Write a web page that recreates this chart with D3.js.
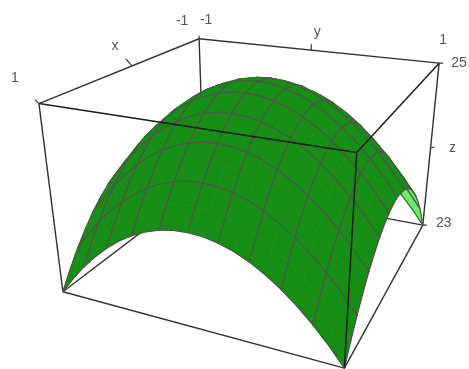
<!DOCTYPE html>
<html>
<head>
<meta charset="utf-8">
<script src="https://cdn.jsdelivr.net/npm/d3@7"></script>
<style>
  body { margin: 0; background: #fff; }
  text { font-family: "Liberation Sans", Arial, sans-serif; font-size: 14px; fill: #555; }
</style>
</head>
<body>
<div id="chart"></div>
<script>
const xValues = [-1, -0.9, -0.8, -0.7, -0.6, -0.5, -0.4, -0.3, -0.2, -0.1, 0, 0.1, 0.2, 0.3, 0.4, 0.5, 0.6, 0.7, 0.8, 0.9, 1];
const yValues = [-1, -0.9, -0.8, -0.7, -0.6, -0.5, -0.4, -0.3, -0.2, -0.1, 0, 0.1, 0.2, 0.3, 0.4, 0.5, 0.6, 0.7, 0.8, 0.9, 1];

// z, one row per x value
const zValues = [
  [23, 23.19, 23.36, 23.51, 23.64, 23.75, 23.84, 23.91, 23.96, 23.99, 24, 23.99, 23.96, 23.91, 23.84, 23.75, 23.64, 23.51, 23.36, 23.19, 23],
  [23.19, 23.38, 23.55, 23.7, 23.83, 23.94, 24.03, 24.1, 24.15, 24.18, 24.19, 24.18, 24.15, 24.1, 24.03, 23.94, 23.83, 23.7, 23.55, 23.38, 23.19],
  [23.36, 23.55, 23.72, 23.87, 24, 24.11, 24.2, 24.27, 24.32, 24.35, 24.36, 24.35, 24.32, 24.27, 24.2, 24.11, 24, 23.87, 23.72, 23.55, 23.36],
  [23.51, 23.7, 23.87, 24.02, 24.15, 24.26, 24.35, 24.42, 24.47, 24.5, 24.51, 24.5, 24.47, 24.42, 24.35, 24.26, 24.15, 24.02, 23.87, 23.7, 23.51],
  [23.64, 23.83, 24, 24.15, 24.28, 24.39, 24.48, 24.55, 24.6, 24.63, 24.64, 24.63, 24.6, 24.55, 24.48, 24.39, 24.28, 24.15, 24, 23.83, 23.64],
  [23.75, 23.94, 24.11, 24.26, 24.39, 24.5, 24.59, 24.66, 24.71, 24.74, 24.75, 24.74, 24.71, 24.66, 24.59, 24.5, 24.39, 24.26, 24.11, 23.94, 23.75],
  [23.84, 24.03, 24.2, 24.35, 24.48, 24.59, 24.68, 24.75, 24.8, 24.83, 24.84, 24.83, 24.8, 24.75, 24.68, 24.59, 24.48, 24.35, 24.2, 24.03, 23.84],
  [23.91, 24.1, 24.27, 24.42, 24.55, 24.66, 24.75, 24.82, 24.87, 24.9, 24.91, 24.9, 24.87, 24.82, 24.75, 24.66, 24.55, 24.42, 24.27, 24.1, 23.91],
  [23.96, 24.15, 24.32, 24.47, 24.6, 24.71, 24.8, 24.87, 24.92, 24.95, 24.96, 24.95, 24.92, 24.87, 24.8, 24.71, 24.6, 24.47, 24.32, 24.15, 23.96],
  [23.99, 24.18, 24.35, 24.5, 24.63, 24.74, 24.83, 24.9, 24.95, 24.98, 24.99, 24.98, 24.95, 24.9, 24.83, 24.74, 24.63, 24.5, 24.35, 24.18, 23.99],
  [24, 24.19, 24.36, 24.51, 24.64, 24.75, 24.84, 24.91, 24.96, 24.99, 25, 24.99, 24.96, 24.91, 24.84, 24.75, 24.64, 24.51, 24.36, 24.19, 24],
  [23.99, 24.18, 24.35, 24.5, 24.63, 24.74, 24.83, 24.9, 24.95, 24.98, 24.99, 24.98, 24.95, 24.9, 24.83, 24.74, 24.63, 24.5, 24.35, 24.18, 23.99],
  [23.96, 24.15, 24.32, 24.47, 24.6, 24.71, 24.8, 24.87, 24.92, 24.95, 24.96, 24.95, 24.92, 24.87, 24.8, 24.71, 24.6, 24.47, 24.32, 24.15, 23.96],
  [23.91, 24.1, 24.27, 24.42, 24.55, 24.66, 24.75, 24.82, 24.87, 24.9, 24.91, 24.9, 24.87, 24.82, 24.75, 24.66, 24.55, 24.42, 24.27, 24.1, 23.91],
  [23.84, 24.03, 24.2, 24.35, 24.48, 24.59, 24.68, 24.75, 24.8, 24.83, 24.84, 24.83, 24.8, 24.75, 24.68, 24.59, 24.48, 24.35, 24.2, 24.03, 23.84],
  [23.75, 23.94, 24.11, 24.26, 24.39, 24.5, 24.59, 24.66, 24.71, 24.74, 24.75, 24.74, 24.71, 24.66, 24.59, 24.5, 24.39, 24.26, 24.11, 23.94, 23.75],
  [23.64, 23.83, 24, 24.15, 24.28, 24.39, 24.48, 24.55, 24.6, 24.63, 24.64, 24.63, 24.6, 24.55, 24.48, 24.39, 24.28, 24.15, 24, 23.83, 23.64],
  [23.51, 23.7, 23.87, 24.02, 24.15, 24.26, 24.35, 24.42, 24.47, 24.5, 24.51, 24.5, 24.47, 24.42, 24.35, 24.26, 24.15, 24.02, 23.87, 23.7, 23.51],
  [23.36, 23.55, 23.72, 23.87, 24, 24.11, 24.2, 24.27, 24.32, 24.35, 24.36, 24.35, 24.32, 24.27, 24.2, 24.11, 24, 23.87, 23.72, 23.55, 23.36],
  [23.19, 23.38, 23.55, 23.7, 23.83, 23.94, 24.03, 24.1, 24.15, 24.18, 24.19, 24.18, 24.15, 24.1, 24.03, 23.94, 23.83, 23.7, 23.55, 23.38, 23.19],
  [23, 23.19, 23.36, 23.51, 23.64, 23.75, 23.84, 23.91, 23.96, 23.99, 24, 23.99, 23.96, 23.91, 23.84, 23.75, 23.64, 23.51, 23.36, 23.19, 23]
];

const xTicks = [-1, 1];
const yTicks = [-1, 1];
const zTicks = [23, 25];

const width = 469;
const height = 369;
const gridEvery = 2; // mesh lines on every second row of the table

const x = d3.scaleLinear().domain(xTicks).range([-1, 1]);
const y = d3.scaleLinear().domain(yTicks).range([-1, 1]);
const z = d3.scaleLinear().domain(zTicks).range([-1, 1]);

// Projection matrix of the view, cube coordinates to screen
const camera = [
  [-101.24683, 110.16939, -13.55525, 258.33657],
  [21.41281, 9.85380, -95.85169, 173.03115],
  [-0.16387, -0.07284, -0.05211, 1]
];

function depth(a, b, c) {
  const m = camera[2];
  return m[0] * x(a) + m[1] * y(b) + m[2] * z(c) + m[3];
}

function project(a, b, c) {
  const w = depth(a, b, c);
  return camera.slice(0, 2).map(m => (m[0] * x(a) + m[1] * y(b) + m[2] * z(c) + m[3]) / w);
}

const svg = d3.select("#chart")
  .append("svg")
  .attr("width", width)
  .attr("height", height)
  .style("display", "block");

// The reference is slightly soft
svg.append("defs").append("filter")
  .attr("id", "soft")
  .append("feGaussianBlur")
  .attr("stdDeviation", 0.5);

const root = svg.append("g").attr("filter", "url(#soft)");

const line = d3.line();
const [x0, x1] = xTicks;
const [y0, y1] = yTicks;
const [z0, z1] = zTicks;

function drawEdges(edges, w, color) {
  root.append("g")
    .selectAll("path")
    .data(edges)
    .join("path")
    .attr("d", d => line(d.map(p => project(...p))))
    .attr("fill", "none")
    .attr("stroke", color)
    .attr("stroke-width", w);
}

// Box edges behind the surface
drawEdges([
  [[x1, y0, z0], [x0, y0, z0]],
  [[x0, y1, z0], [x0, y0, z0]],
  [[x0, y0, z0], [x0, y0, z1]],
  [[x0, y1, z0], [x0, y1, z1]],
  [[x0, y0, z1], [x0, y1, z1]],
  [[x0, y0, z1], [x1, y0, z1]],
  [[x1, y0, z0], [x1, y1, z0]],
  [[x1, y1, z0], [x0, y1, z0]],
  [[x1, y0, z0], [x1, y0, z1]]
], 1.4, "#333");

// Surface cells, far ones first
const cells = [];
d3.range(xValues.length - 1).forEach(i => {
  d3.range(yValues.length - 1).forEach(j => {
    const corners = [[i, j], [i + 1, j], [i + 1, j + 1], [i, j + 1]]
      .map(([a, b]) => [xValues[a], yValues[b], zValues[a][b]]);
    const points = corners.map(p => project(...p));
    // mesh lines that run along this cell's sides
    const mesh = [];
    if (i % gridEvery === 0) mesh.push([points[0], points[3]]);
    if ((i + 1) % gridEvery === 0) mesh.push([points[1], points[2]]);
    if (j % gridEvery === 0) mesh.push([points[0], points[1]]);
    if ((j + 1) % gridEvery === 0) mesh.push([points[3], points[2]]);
    cells.push({ points, mesh, depth: d3.mean(corners, p => depth(...p)) });
  });
});
cells.sort((a, b) => b.depth - a.depth);

const cell = root.append("g")
  .selectAll("g")
  .data(cells)
  .join("g");

cell.append("path")
  .attr("d", d => line(d.points) + "Z")
  .attr("fill", d => d3.polygonArea(d.points) > 0 ? "#128e12" : "#66ee66")
  .attr("stroke", d => d3.polygonArea(d.points) > 0 ? "#128e12" : "#66ee66")
  .attr("stroke-width", 0.6)
  .attr("stroke-linejoin", "round");

cell.selectAll("line")
  .data(d => d.mesh)
  .join("line")
  .attr("x1", d => d[0][0])
  .attr("y1", d => d[0][1])
  .attr("x2", d => d[1][0])
  .attr("y2", d => d[1][1])
  .attr("stroke", "#4f564b")
  .attr("stroke-width", 1.2)
  .attr("stroke-linecap", "round");

// Box edges in front of the surface
drawEdges([
  [[x1, y0, z1], [x1, y1, z1]],
  [[x1, y1, z1], [x1, y1, z0]],
  [[x1, y1, z1], [x0, y1, z1]]
], 1.5, "#1c1c1c");

// Small tick marks along the axes, offsets in pixels
const ticks = [
  { at: [0, y0, z1], dx: -6, dy: -7 },
  { at: [x0, 0, z1], dx: 0, dy: -6 },
  { at: [x0, y1, 24], dx: 4, dy: -1 },
  { at: [x1, y0, z1], dx: -4, dy: -4 },
  { at: [x0, y0, z1], dx: 0, dy: -3 },
  { at: [x0, y1, z1], dx: 4, dy: 0 },
  { at: [x0, y1, z0], dx: 4, dy: 0 }
];

root.append("g")
  .selectAll("line")
  .data(ticks)
  .join("line")
  .attr("x1", d => project(...d.at)[0])
  .attr("y1", d => project(...d.at)[1])
  .attr("x2", d => project(...d.at)[0] + d.dx)
  .attr("y2", d => project(...d.at)[1] + d.dy)
  .attr("stroke", "#333")
  .attr("stroke-width", 1.2);

// Axis labels, placed next to the box corners they belong to
const labels = [
  { text: String(x1), at: [x1, y0, z1], dx: -24, dy: -27 },
  { text: String(x0), at: [x0, y0, z1], dx: -17, dy: -19 },
  { text: String(y0), at: [x0, y0, z1], dx: 7, dy: -20 },
  { text: String(y1), at: [x0, y1, z1], dx: 4, dy: -24 },
  { text: String(z1), at: [x0, y1, z1], dx: 20, dy: -1 },
  { text: String(z0), at: [x0, y1, z0], dx: 21, dy: -3 },
  { text: "x", at: [0, y0, z1], dx: -17, dy: -21 },
  { text: "y", at: [x0, 0, z1], dx: 6, dy: -19 },
  { text: "z", at: [x0, y1, 24], dx: 22, dy: -1 }
];

root.append("g")
  .selectAll("text")
  .data(labels)
  .join("text")
  .attr("x", d => project(...d.at)[0] + d.dx)
  .attr("y", d => project(...d.at)[1] + d.dy)
  .attr("text-anchor", "middle")
  .attr("dominant-baseline", "central")
  .text(d => d.text);
</script>
</body>
</html>
